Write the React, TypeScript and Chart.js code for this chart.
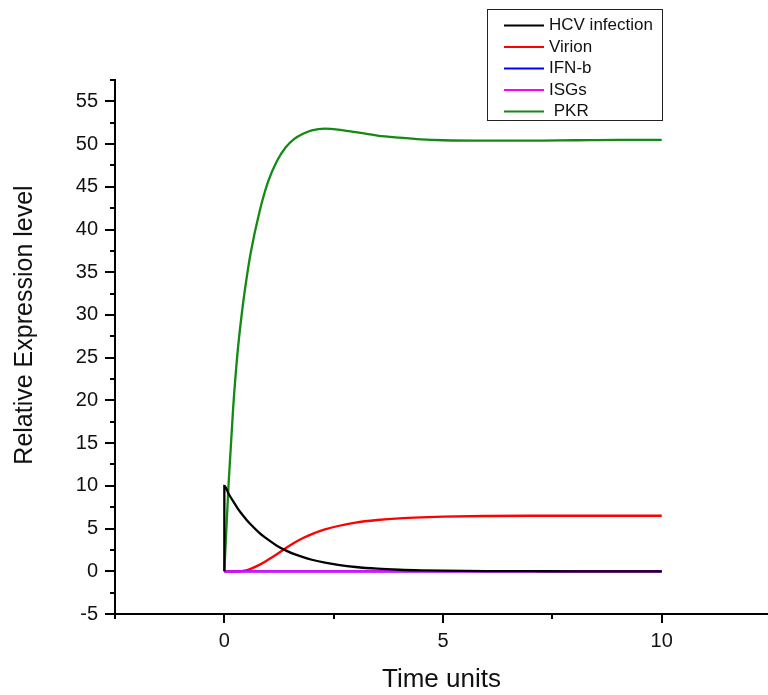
import React, { useEffect, useRef } from "react";
import { Chart, registerables } from "chart.js";

Chart.register(...registerables);

const FONT = "'Liberation Sans', Arial, Helvetica, sans-serif";

// Time points (shared)
const time = [0, 0.1, 0.2, 0.3, 0.4, 0.5, 0.6, 0.8, 1.0, 1.2, 1.4, 1.6, 1.8, 2.0, 2.3, 2.6, 3.0, 3.5, 4.0, 4.5, 5, 6, 7, 8, 9, 10];
// HCV has an initial jump at t = 0
const hcvTime = [0, 0, 0.1, 0.2, 0.3, 0.4, 0.5, 0.6, 0.8, 1.0, 1.2, 1.4, 1.6, 1.8, 2.0, 2.3, 2.6, 3.0, 3.5, 4.0, 4.5, 5, 6, 7, 8, 9, 10];
const hcvValues = [0, 10, 9.05, 8.2, 7.4, 6.7, 6.07, 5.5, 4.5, 3.7, 3.0, 2.45, 2.0, 1.65, 1.35, 1.0, 0.75, 0.5, 0.3, 0.18, 0.11, 0.07, 0.02, 0.01, 0, 0, 0];
const virionValues = [0, 0, 0, 0, 0.02, 0.1, 0.28, 0.75, 1.35, 2.0, 2.7, 3.35, 3.9, 4.35, 4.9, 5.3, 5.7, 6.0, 6.2, 6.32, 6.4, 6.47, 6.5, 6.5, 6.5, 6.5];
const ifnbValues = [0, 0, 0, 0, 0, 0, 0, 0, 0, 0, 0, 0, 0, 0, 0, 0, 0, 0, 0, 0, 0, 0, 0, 0, 0, 0];
const isgValues = [0, 0, 0, 0, 0, 0, 0, 0, 0, 0, 0, 0, 0, 0, 0, 0, 0, 0, 0, 0, 0, 0, 0, 0, 0, 0];
const pkrValues = [0, 10.5, 19, 25.5, 30.2, 34.0, 37.2, 42.0, 45.6, 48.0, 49.6, 50.6, 51.2, 51.6, 51.8, 51.7, 51.4, 51.0, 50.75, 50.55, 50.45, 50.4, 50.4, 50.45, 50.5, 50.5];

const seriesLabels = ["HCV infection", "Virion", "IFN-b", "ISGs", " PKR"];
const seriesColors = ["#000000", "#ff0000", "#0000ff", "#ff00ff", "#138a13"];
const drawOrder = [0, 3, 2, 1, 4];

const xTitle = "Time units";
const yTitle = "Relative Expression level";

const xMajorTicks = [0, 5, 10];
const xMinorTicks = [-2.5, 2.5, 7.5];
const yMajorTicks = [-5, 0, 5, 10, 15, 20, 25, 30, 35, 40, 45, 50, 55];
const yMinorTicks = [-2.5, 2.5, 7.5, 12.5, 17.5, 22.5, 27.5, 32.5, 37.5, 42.5, 47.5, 52.5, 57.5];

const xMin = -2.5;
const xMax = 12.43;
const yMin = -5;
const yMax = 57.5;

const pair = (xs: number[], ys: number[]) => xs.map((x, i) => ({ x, y: ys[i] }));

const tickPlugin = {
  id: "originTicks",
  afterDraw(chart: any) {
    const { ctx, chartArea } = chart;
    const xs = chart.scales.x;
    const ys = chart.scales.y;
    ctx.save();
    ctx.strokeStyle = "#000";
    ctx.lineWidth = 2;
    ctx.beginPath();
    xMajorTicks.forEach((v) => {
      const p = Math.round(xs.getPixelForValue(v));
      ctx.moveTo(p, chartArea.bottom);
      ctx.lineTo(p, chartArea.bottom + 9);
    });
    xMinorTicks.forEach((v) => {
      const p = Math.round(xs.getPixelForValue(v));
      ctx.moveTo(p, chartArea.bottom);
      ctx.lineTo(p, chartArea.bottom + 5);
    });
    yMajorTicks.forEach((v) => {
      const p = Math.round(ys.getPixelForValue(v));
      ctx.moveTo(chartArea.left, p);
      ctx.lineTo(chartArea.left - 10, p);
    });
    yMinorTicks.forEach((v) => {
      const p = Math.round(ys.getPixelForValue(v));
      ctx.moveTo(chartArea.left, p);
      ctx.lineTo(chartArea.left - 5, p);
    });
    ctx.stroke();

    // Y axis title
    ctx.translate(25.5, 325);
    ctx.rotate(-Math.PI / 2);
    ctx.font = `25px ${FONT}`;
    ctx.fillStyle = "#111";
    ctx.textAlign = "center";
    ctx.textBaseline = "middle";
    ctx.fillText(yTitle, 0, 0);
    ctx.restore();
  },
};

const legendPlugin = {
  id: "boxLegend",
  afterDraw(chart: any) {
    const { ctx } = chart;
    const bx = 487.5, by = 9.5, bw = 175, bh = 111;
    ctx.save();
    ctx.fillStyle = "#ffffff";
    ctx.fillRect(bx, by, bw, bh);
    ctx.strokeStyle = "#222";
    ctx.lineWidth = 1;
    ctx.strokeRect(bx, by, bw, bh);
    ctx.font = `17px ${FONT}`;
    ctx.textBaseline = "middle";
    ctx.textAlign = "left";
    chart.data.datasets.forEach((ds: any, i: number) => {
      const y = 25.5 + i * 21.5;
      ctx.strokeStyle = ds.borderColor;
      ctx.lineWidth = 2;
      ctx.beginPath();
      ctx.moveTo(504, y);
      ctx.lineTo(544, y);
      ctx.stroke();
      ctx.fillStyle = "#111";
      ctx.fillText(ds.label, 549, y);
    });
    ctx.restore();
  },
};

export default function App() {
  const ref = useRef<HTMLCanvasElement | null>(null);
  useEffect(() => {
    if (!ref.current) return;
    const datasets = seriesLabels.map((label, i) => {
      const data =
        i === 0
          ? pair(hcvTime, hcvValues)
          : pair(time, [virionValues, ifnbValues, isgValues, pkrValues][i - 1]);
      return {
        label,
        data,
        borderColor: seriesColors[i],
        backgroundColor: seriesColors[i],
        borderWidth: 2.3,
        pointRadius: 0,
        fill: false,
        cubicInterpolationMode: "monotone" as const,
        order: drawOrder[i],
      };
    });
    const chart = new Chart(ref.current, {
      type: "line",
      data: { datasets },
      plugins: [tickPlugin, legendPlugin],
      options: {
        animation: false,
        responsive: true,
        maintainAspectRatio: false,
        layout: { padding: { top: 80, right: 0, left: 0, bottom: 0 } },
        plugins: { legend: { display: false }, tooltip: { enabled: false } },
        scales: {
          x: {
            type: "linear",
            min: xMin,
            max: xMax,
            afterFit: (s: any) => {
              s.height = 81;
            },
            afterBuildTicks: (s: any) => {
              s.ticks = xMajorTicks.map((v) => ({ value: v }));
            },
            grid: { display: false, drawTicks: false },
            border: { display: true, color: "#000", width: 2 },
            ticks: {
              color: "#111",
              padding: 15,
              font: { family: FONT, size: 20 },
              maxRotation: 0,
              autoSkip: false,
            },
            title: {
              display: true,
              text: xTitle,
              color: "#111",
              font: { family: FONT, size: 26 },
              padding: { top: 0, bottom: 0 },
            },
          },
          y: {
            type: "linear",
            min: yMin,
            max: yMax,
            afterFit: (s: any) => {
              s.width = 115;
            },
            afterBuildTicks: (s: any) => {
              s.ticks = yMajorTicks.map((v) => ({ value: v }));
            },
            grid: { display: false, drawTicks: false },
            border: { display: true, color: "#000", width: 2 },
            ticks: {
              color: "#111",
              padding: 17,
              font: { family: FONT, size: 20 },
              autoSkip: false,
            },
            title: { display: false },
          },
        },
      },
    });
    return () => chart.destroy();
  }, []);
  return (
    <div style={{ position: "absolute", left: 0, top: 0, width: 768, height: 695 }}>
      <canvas ref={ref} />
    </div>
  );
}
